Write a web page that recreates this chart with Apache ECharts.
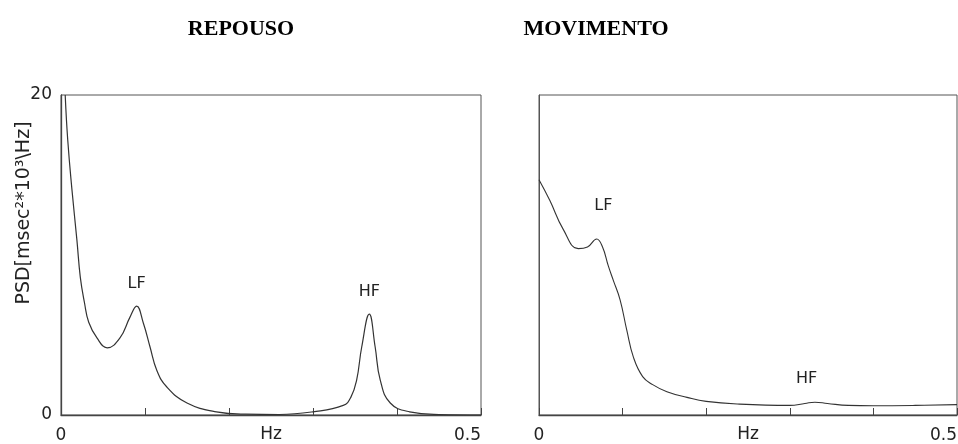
<!DOCTYPE html>
<html><head><meta charset="utf-8">
<script src="https://cdn.jsdelivr.net/npm/echarts@6/dist/echarts.min.js"></script>
<style>html,body{margin:0;padding:0;background:#fff}#c{width:958px;height:444px}</style>
</head><body><div id="c"></div>
<script>
// Data
const titles = ['REPOUSO', 'MOVIMENTO'];
const yAxisName = 'PSD[msec²*10³\\Hz]';
const xAxisName = 'Hz';
const xTickLabels = ['0', '0.5'];
const yTickLabels = ['0', '20'];

const repousoHz = [0.005,0.008,0.013,0.019,0.023,0.028,0.033,0.043,0.055,0.07,0.082,0.09,0.098,0.106,0.114,0.126,0.15,0.185,0.22,0.26,0.3,0.336,0.345,0.352,0.358,0.367,0.374,0.38,0.392,0.415,0.45,0.5];
const repousoPSD = [20,17.2,14.1,10.9,8.6,7.0,5.8,4.8,4.2,4.8,6.1,6.8,5.75,4.25,2.8,1.75,0.75,0.2,0.05,0.03,0.2,0.6,1.1,2.2,4.25,6.3,4.25,2.2,0.75,0.2,0.03,0.0];

const movimentoHz = [0,0.013,0.029,0.047,0.058,0.069,0.076,0.083,0.089,0.097,0.105,0.113,0.124,0.136,0.153,0.177,0.2,0.24,0.3,0.318,0.33,0.345,0.37,0.4,0.45,0.5];
const movimentoPSD = [14.7,13.4,11.6,10.4,10.5,11,10.5,9.3,8.4,7.2,5.3,3.6,2.4,1.9,1.45,1.1,0.85,0.68,0.6,0.72,0.8,0.72,0.6,0.58,0.6,0.65];

const peakLabels = ['LF', 'HF'];
const repousoPeakHz = [0.09, 0.367];
const repousoPeakLabelY = [8.2, 7.7];
const movimentoPeakHz = [0.077, 0.32];
const movimentoPeakLabelY = [13.1, 2.25];

const pairs = (xs, ys) => xs.map((x, i) => [x, ys[i]]);
const ink = '#333';
const fam = 'DejaVu Sans, Liberation Sans, sans-serif';
const axisFont = {fontFamily: fam, fontSize: 17, color: '#222'};

function xAxisCfg(gridIndex) {
  return {
    type: 'value', gridIndex, min: 0, max: 0.5, interval: 0.1,
    name: xAxisName, nameLocation: 'middle', nameGap: 20, nameMoveOverlap: false,
    nameTextStyle: Object.assign({verticalAlign: 'middle'}, axisFont),
    axisLine: {show: true, lineStyle: {color: '#444', width: 1.3}},
    axisTick: {show: true, inside: true, length: 7, lineStyle: {color: '#444'}},
    axisLabel: Object.assign({
      margin: 12,
      alignMaxLabel: 'right',
      formatter: v => (Math.abs(v) < 1e-9 ? xTickLabels[0] : (Math.abs(v - 0.5) < 1e-9 ? xTickLabels[1] : ''))
    }, axisFont),
    splitLine: {show: false}
  };
}

function peakMarks(xs, ys) {
  return {
    symbol: 'circle', symbolSize: 0, silent: true,
    label: {show: true, position: 'inside', formatter: p => p.name,
      fontFamily: fam, fontSize: 16, color: '#222'},
    data: xs.map((x, i) => ({name: peakLabels[i], coord: [x, ys[i]]}))
  };
}

const chart = echarts.init(document.getElementById('c'), null, {renderer: 'canvas'});
chart.setOption({
  animation: false,
  backgroundColor: '#fff',
  title: [
    {text: titles[0], left: 236, top: 13, textAlign: 'center',
      textStyle: {fontFamily: 'Liberation Serif, Times New Roman, serif', fontWeight: 'bold', fontSize: 22, color: '#000'}},
    {text: titles[1], left: 591, top: 13, textAlign: 'center',
      textStyle: {fontFamily: 'Liberation Serif, Times New Roman, serif', fontWeight: 'bold', fontSize: 22, color: '#000'}}
  ],
  grid: [
    {left: 61, right: 477, top: 95, bottom: 29, show: true, borderColor: '#555', borderWidth: 1, containLabel: false, outerBoundsMode: 'none'},
    {left: 539, right: 1, top: 95, bottom: 29, show: true, borderColor: '#555', borderWidth: 1, containLabel: false, outerBoundsMode: 'none'}
  ],
  xAxis: [xAxisCfg(0), xAxisCfg(1)],
  yAxis: [
    {type: 'value', gridIndex: 0, min: 0, max: 20, interval: 20,
      axisLine: {show: true, lineStyle: {color: '#444', width: 1.3}},
      axisTick: {show: false},
      axisLabel: Object.assign({margin: 9, formatter: v => (v === 0 ? yTickLabels[0] : yTickLabels[1])}, axisFont),
      splitLine: {show: false}},
    {type: 'value', gridIndex: 1, min: 0, max: 20, interval: 20,
      axisLine: {show: true, lineStyle: {color: '#555'}},
      axisTick: {show: false}, axisLabel: {show: false}, splitLine: {show: false}}
  ],
  graphic: [{
    type: 'text', x: 24, y: 213, rotation: Math.PI / 2,
    style: {text: yAxisName, fontFamily: fam, fontSize: 19, fill: '#222',
      textAlign: 'center', textVerticalAlign: 'middle'}
  }],
  series: [
    {type: 'line', xAxisIndex: 0, yAxisIndex: 0, data: pairs(repousoHz, repousoPSD),
      smooth: 0.45, showSymbol: false,
      lineStyle: {color: ink, width: 1.2}, markPoint: peakMarks(repousoPeakHz, repousoPeakLabelY)},
    {type: 'line', xAxisIndex: 1, yAxisIndex: 1, data: pairs(movimentoHz, movimentoPSD),
      smooth: 0.45, showSymbol: false,
      lineStyle: {color: ink, width: 1.1}, markPoint: peakMarks(movimentoPeakHz, movimentoPeakLabelY)}
  ]
});
</script></body></html>
